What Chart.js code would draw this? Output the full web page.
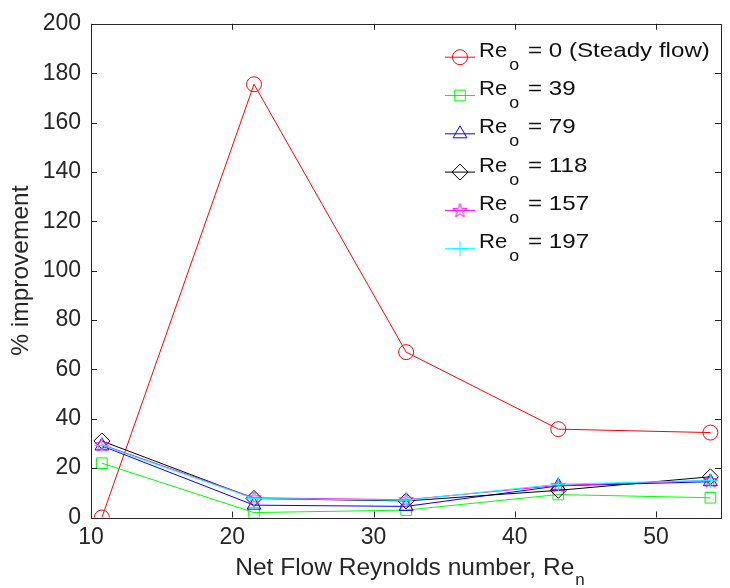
<!DOCTYPE html>
<html><head><meta charset="utf-8">
<script src="https://cdn.jsdelivr.net/npm/chart.js@4.4.0/dist/chart.umd.min.js"></script>
<style>html,body{margin:0;padding:0;background:#fff;}canvas{display:block;}</style>
</head><body>
<canvas id="c" width="730" height="588"></canvas>
<script>
// ---- data ----
const reNet = [10.77, 21.54, 32.31, 43.08, 53.85];
const seriesNames = ['0 (Steady flow)', '39', '79', '118', '157', '197'];
const re0   = [0, 175.5, 67, 35.8, 34.4];
const re39  = [22, 2, 3, 9.3, 8];
const re79  = [29, 5, 4.5, 12.8, 14.5];
const re118 = [31, 7.7, 6.7, 11, 16.5];
const re157 = [29.5, 8, 7.2, 13, 15];
const re197 = [29.2, 7.7, 7, 13.5, 15];
const xTicks = [10, 20, 30, 40, 50];
const yTicks = [0, 20, 40, 60, 80, 100, 120, 140, 160, 180, 200];

const FONT = '"Liberation Sans", Arial, Helvetica, sans-serif';
const AXC = '#262626';

function starCanvas(color) {
  const s = 17, c = document.createElement('canvas');
  c.width = s; c.height = s;
  const g = c.getContext('2d');
  const R = 7.5, r = R * 0.382, cx = s / 2, cy = s / 2 + 0.5;
  g.beginPath();
  for (let i = 0; i < 10; i++) {
    const a = -Math.PI / 2 + i * Math.PI / 5;
    const rr = i % 2 === 0 ? R : r;
    const px = cx + rr * Math.cos(a), py = cy + rr * Math.sin(a);
    if (i === 0) g.moveTo(px, py); else g.lineTo(px, py);
  }
  g.closePath();
  g.strokeStyle = color; g.lineWidth = 1; g.stroke();
  return c;
}
const starImg = starCanvas('#ff00ff');

const seriesValues = [re0, re39, re79, re118, re157, re197];
const colors = ['#ff0000', '#00ff00', '#0000ff', '#000000', '#ff00ff', '#00ffff'];
const styles = ['circle', 'rect', 'triangle', 'rectRot', starImg, 'cross'];
const radii = [7.5, 7.5, 8, 8, 7.5, 7.5];

const datasets = seriesValues.map((vals, i) => ({
  label: 'Re_o = ' + seriesNames[i],
  data: vals.map((v, k) => ({ x: reNet[k], y: v })),
  borderColor: colors[i],
  backgroundColor: 'rgba(0,0,0,0)',
  borderWidth: 1,
  pointStyle: styles[i],
  pointRadius: radii[i],
  pointBorderColor: colors[i],
  pointBackgroundColor: 'rgba(0,0,0,0)',
  pointBorderWidth: 1,
  tension: 0,
  order: 6 - i
}));

function sText(ctx, text, x, y, font, sx) {
  ctx.save();
  ctx.font = font;
  ctx.translate(x, y);
  ctx.scale(sx, 1);
  ctx.fillText(text, 0, 0);
  const w = ctx.measureText(text).width * sx;
  ctx.restore();
  return w;
}

const framePlugin = {
  id: 'frame',
  afterDraw(chart) {
    const { ctx, chartArea: a, scales } = chart;
    ctx.save();
    ctx.strokeStyle = AXC; ctx.lineWidth = 1;
    ctx.strokeRect(Math.round(a.left) + 0.5, Math.round(a.top) + 0.5,
      Math.round(a.right) - Math.round(a.left), Math.round(a.bottom) - Math.round(a.top));
    const tl = 6;
    ctx.beginPath();
    xTicks.forEach(v => {
      const px = Math.round(scales.x.getPixelForValue(v)) + 0.5;
      ctx.moveTo(px, a.bottom); ctx.lineTo(px, a.bottom - tl);
      ctx.moveTo(px, a.top); ctx.lineTo(px, a.top + tl);
    });
    yTicks.forEach(v => {
      const py = Math.round(scales.y.getPixelForValue(v)) + 0.5;
      ctx.moveTo(a.left, py); ctx.lineTo(a.left + tl, py);
      ctx.moveTo(a.right, py); ctx.lineTo(a.right - tl, py);
    });
    ctx.stroke();

    // axis titles
    ctx.fillStyle = AXC;
    ctx.textBaseline = 'alphabetic';
    ctx.textAlign = 'left';
    const tFont = '24.5px ' + FONT, sFont = '17px ' + FONT;
    ctx.font = tFont;
    const main = 'Net Flow Reynolds number, Re';
    const wMain = ctx.measureText(main).width;
    ctx.font = sFont;
    const wSub = ctx.measureText('n').width;
    const cx = (a.left + a.right) / 2 + 4;
    const x0 = cx - (wMain + wSub + 1) / 2;
    ctx.font = tFont;
    ctx.fillText(main, x0, 575);
    ctx.font = sFont;
    ctx.fillText('n', x0 + wMain + 1, 585);

    ctx.save();
    ctx.translate(28, (a.top + a.bottom) / 2);
    ctx.rotate(-Math.PI / 2);
    ctx.font = tFont;
    ctx.textAlign = 'center';
    ctx.fillText('% improvement', 0, 0);
    ctx.restore();

    // legend
    const lx0 = 445, lx1 = 475, tx = 479, y0 = 56.7, dy = 38.3;
    seriesNames.forEach((name, i) => {
      const y = y0 + i * dy;
      ctx.strokeStyle = colors[i]; ctx.lineWidth = 1;
      ctx.beginPath(); ctx.moveTo(lx0, y + 0.5); ctx.lineTo(lx1, y + 0.5); ctx.stroke();
      ctx.fillStyle = 'rgba(0,0,0,0)';
      Chart.helpers.drawPoint(ctx, { pointStyle: styles[i], radius: radii[i], rotation: 0, borderWidth: 1 }, (lx0 + lx1) / 2, y + 0.5);
      ctx.fillStyle = '#111';
      ctx.textAlign = 'left';
      const wRe = sText(ctx, 'Re', tx, y, '21px ' + FONT, 1.05);
      sText(ctx, 'o', tx + wRe + 2, y + 13, '17px ' + FONT, 1.05);
      sText(ctx, '= ' + name, 528, y, '21px ' + FONT, 1.15);
    });
    ctx.restore();
  }
};

new Chart(document.getElementById('c'), {
  type: 'line',
  data: { datasets },
  plugins: [framePlugin],
  options: {
    responsive: false,
    animation: false,
    devicePixelRatio: 1,
    layout: { padding: { top: 19, right: 1, left: 0, bottom: 0 } },
    plugins: { legend: { display: false }, tooltip: { enabled: false } },
    scales: {
      x: {
        type: 'linear', min: 10, max: 54.6,
        afterFit(s) { s.height = 70.5; },
        afterBuildTicks(s) { s.ticks = xTicks.map(v => ({ value: v })); },
        grid: { display: false, drawTicks: false },
        border: { display: false },
        ticks: { font: { family: FONT, size: 23 }, color: AXC, padding: 6, maxRotation: 0, autoSkip: false }
      },
      y: {
        type: 'linear', min: 0, max: 200,
        afterFit(s) { s.width = 91; },
        afterBuildTicks(s) { s.ticks = yTicks.map(v => ({ value: v })); },
        grid: { display: false, drawTicks: false },
        border: { display: false },
        ticks: { font: { family: FONT, size: 23 }, color: AXC, padding: 10, autoSkip: false }
      }
    }
  }
});
</script>
</body></html>
